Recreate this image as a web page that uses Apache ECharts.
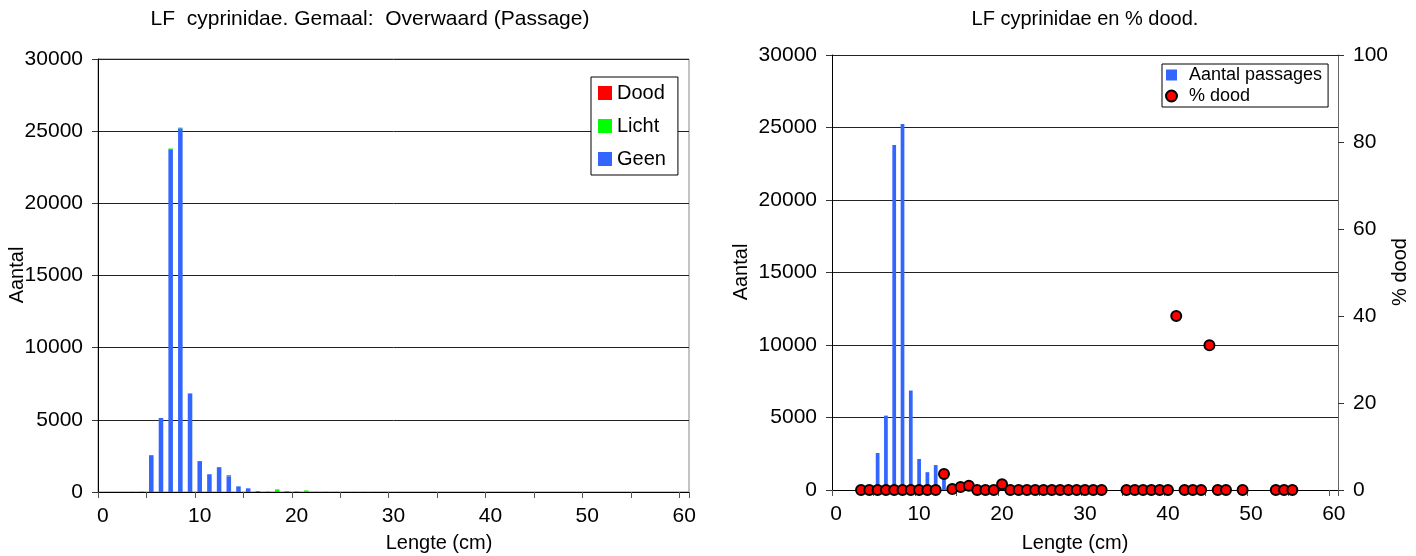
<!DOCTYPE html>
<html><head><meta charset="utf-8">
<script src="https://cdn.jsdelivr.net/npm/echarts@6/dist/echarts.min.js"></script>
<style>html,body{margin:0;padding:0;background:#fff}#c{width:1416px;height:556px}</style>
</head><body><div id="c"></div>
<script>
// Length classes (cm)
const categories = [0,1,2,3,4,5,6,7,8,9,10,11,12,13,14,15,16,17,18,19,20,21,22,23,24,25,26,27,28,29,30,31,32,33,34,35,36,37,38,39,40,41,42,43,44,45,46,47,48,49,50,51,52,53,54,55,56,57,58,59,60];
// Passages per damage class
const geen  = [0,0,0,4,12,2550,5130,23750,25200,6820,2140,1230,1720,1090,390,255,60,20,50,50,20,40,10,8,6,5,5,4,4,3,3,2,2,0,0,2,2,2,1,2,1,3,1,1,1,2,1,1,0,1,0,0,0,1,1,1,0,0,0,0,0];
const licht = [0,0,0,0,0,0,0,50,50,40,0,0,0,10,5,3,5,3,130,2,40,70,0,0,0,0,0,0,0,0,0,0,0,0,0,0,0,0,0,0,0,0,0,0,0,0,0,0,0,0,0,0,0,0,0,0,0,0,0,0,0];
const dood  = [0,0,0,0,0,0,0,0,0,0,0,0,0,50,1,2,1,0,0,0,1,0,0,0,0,0,0,0,0,0,0,0,0,0,0,0,0,0,0,0,0,2,0,0,0,1,0,0,0,0,0,0,0,0,0,0,0,0,0,0,0];
// % dood per length class
const pctDood = [null,null,null,0,0,0,0,0,0,0,0,0,0,3.7,0.23,0.7,1.0,0,0,0,1.3,0,0,0,0,0,0,0,0,0,0,0,0,null,null,0,0,0,0,0,0,40,0,0,0,33.3,0,0,null,0,null,null,null,0,0,0,null,null,null,null,null];
const totals = geen.map((v,i)=>v+licht[i]+dood[i]);

const FONT = 'Liberation Sans, Arial, sans-serif';
const chart = echarts.init(document.getElementById('c'), null, {renderer:'canvas'});

function catAxis(gi){
  return {type:'category', gridIndex:gi, data:categories, boundaryGap:true,
    axisLine:{show:true, lineStyle:{color:'#000', width:1}},
    axisTick:{show:true, interval:4, length:6, inside:false, lineStyle:{color:'#555'}},
    axisLabel:{interval:9, fontSize:21, color:'#000', fontFamily:FONT, margin:14},
    splitLine:{show:false}};
}
function valAxis(gi, pos, max, itv, split){
  return {type:'value', gridIndex:gi, position:pos, min:0, max:max, interval:itv,
    axisLine:{show:true, lineStyle:{color: pos==='right' ? '#666' : '#000', width:1}},
    axisTick:{show:true, length:6, lineStyle:{color:'#333'}},
    axisLabel:{fontSize:21, color:'#000', fontFamily:FONT, margin:15, formatter:(v)=>String(v)},
    splitLine:{show:split, lineStyle:{color:'#222', width:1}}};
}

const txt = (x,y,t,size,rot)=>({type:'text', x:x, y:y, rotation:rot||0, z:100,
  style:{text:t, fill:'#000', font:size+'px '+FONT, textAlign:'center', textVerticalAlign:'middle'}});

chart.setOption({
  animation:false,
  grid:[
    {left:98, top:59, width:591, height:433, show:true, borderColor:'#888', borderWidth:1, backgroundColor:'transparent'},
    {left:832, top:55, width:506, height:435, show:false}
  ],
  xAxis:[catAxis(0), catAxis(1)],
  yAxis:[valAxis(0,'left',30000,5000,true), valAxis(1,'left',30000,5000,true), valAxis(1,'right',100,20,false)],
  legend:[
    {data:['Dood','Licht','Geen'], orient:'vertical', left:591, top:77, padding:[6,12,6,7], itemGap:13,
     itemWidth:14, itemHeight:14, icon:'rect', backgroundColor:'#fff', borderColor:'#000', borderWidth:1,
     textStyle:{fontSize:20, color:'#000', fontFamily:FONT, lineHeight:20}},
    {data:[{name:'Aantal passages', icon:'rect'},{name:'% dood', icon:'circle'}], orient:'vertical', left:1162, top:64,
     padding:[2,6,2,3], itemGap:3, itemWidth:11, itemHeight:11, backgroundColor:'#fff', borderColor:'#000', borderWidth:1,
     textStyle:{fontSize:18, color:'#000', fontFamily:FONT, lineHeight:18, padding:[0,0,0,7]}}
  ],
  series:[
    {name:'Geen', type:'bar', stack:'a', xAxisIndex:0, yAxisIndex:0, data:geen, barWidth:'47%', itemStyle:{color:'#3366FF'}},
    {name:'Licht', type:'bar', stack:'a', xAxisIndex:0, yAxisIndex:0, data:licht, barWidth:'47%', itemStyle:{color:'#00FF00'}},
    {name:'Dood', type:'bar', stack:'a', xAxisIndex:0, yAxisIndex:0, data:dood, barWidth:'47%', itemStyle:{color:'#FF0000'}},
    {name:'Aantal passages', type:'bar', xAxisIndex:1, yAxisIndex:1, data:totals, barWidth:'45%', itemStyle:{color:'#3366FF'}},
    {name:'% dood', type:'scatter', xAxisIndex:1, yAxisIndex:2, data:pctDood, symbol:'circle', symbolSize:10, z:5,
     itemStyle:{color:'#FF0000', borderColor:'#000', borderWidth:2, opacity:1}}
  ],
  graphic:[
    txt(370,19,'LF  cyprinidae. Gemaal:  Overwaard (Passage)',21),
    txt(1085,19,'LF cyprinidae en % dood.',20),
    txt(439,543,'Lengte (cm)',20),
    txt(1075,543,'Lengte (cm)',20),
    txt(17,275,'Aantal',20,Math.PI/2),
    txt(741,272,'Aantal',20,Math.PI/2),
    txt(1400,272,'% dood',20,Math.PI/2)
  ]
});
</script></body></html>
